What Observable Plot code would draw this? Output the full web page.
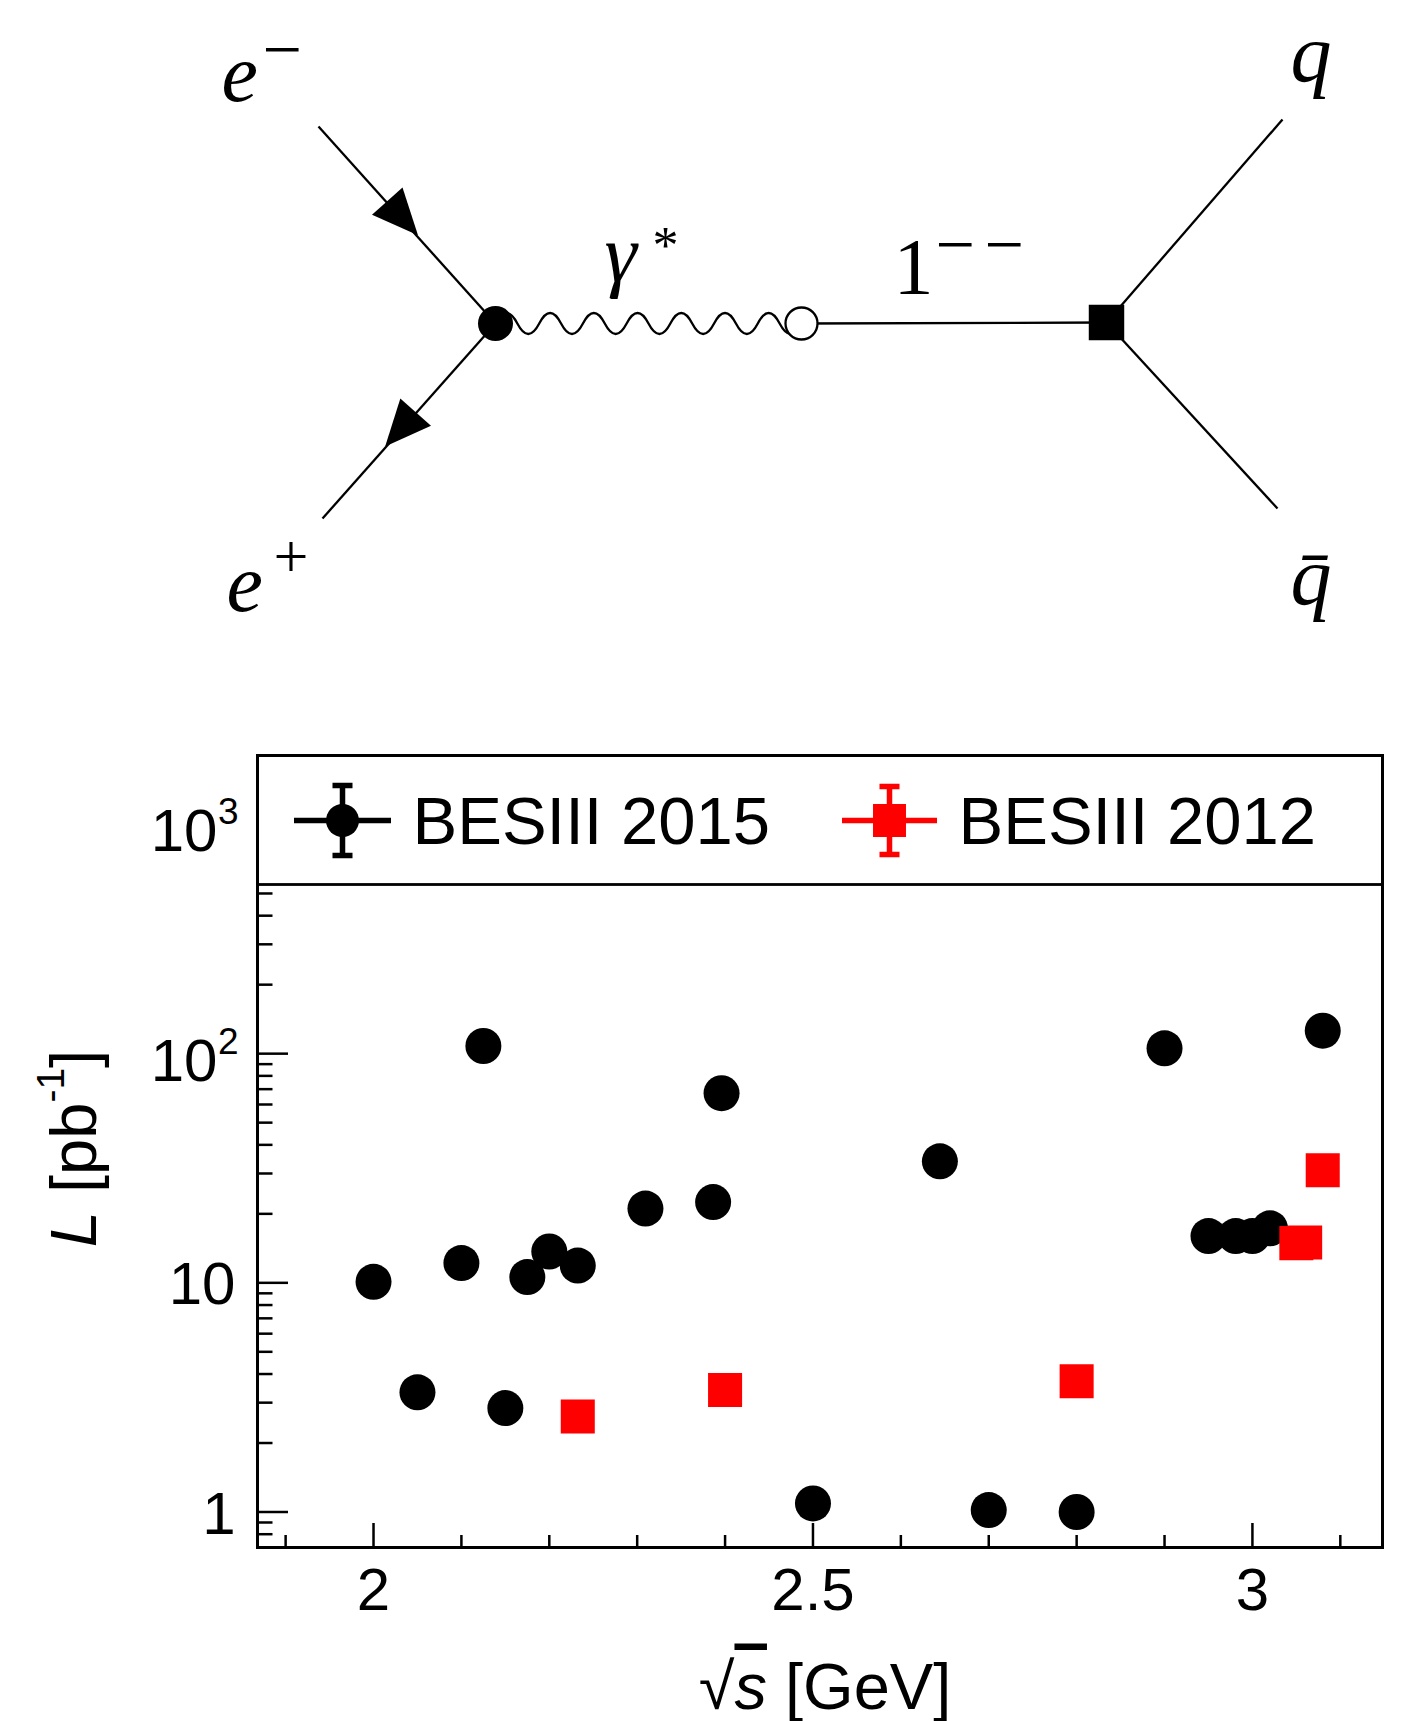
<!DOCTYPE html>
<html>
<head>
<meta charset="utf-8">
<script src="https://cdn.jsdelivr.net/npm/d3@7"></script>
<script src="https://cdn.jsdelivr.net/npm/@observablehq/plot@0.6"></script>
<style>
  html, body { margin: 0; padding: 0; background: #ffffff; }
  #diagram, #chart { display: block; line-height: 0; }
  svg { display: block; }
</style>
</head>
<body>
<div id="diagram"></div>
<div id="chart"></div>
<script>
// ================= Chart data =================
const sqrtS2015 = [2.0, 2.05, 2.1, 2.125, 2.15, 2.175, 2.2, 2.2324, 2.3094, 2.3864, 2.396, 2.5, 2.6444, 2.7, 2.8, 2.9, 2.95, 2.981, 3.0, 3.02, 3.08];
const lumi2015  = [10.1, 3.33, 12.2, 108, 2.84, 10.6, 13.7, 11.9, 21.1, 22.5, 67.2, 1.09, 33.9, 1.02, 1.0, 105.5, 16.0, 16.0, 16.0, 17.3, 126];
const sqrtS2012 = [2.2324, 2.4, 2.8, 3.05, 3.06, 3.08];
const lumi2012  = [2.61, 3.41, 3.72, 14.9, 15.0, 31.0];
const seriesNames = ["BESIII 2015", "BESIII 2012"];

const xMajorTicks = [2, 2.5, 3];
const xMinorTicks = [1.9, 2.1, 2.2, 2.3, 2.4, 2.6, 2.7, 2.8, 2.9, 3.1];
const xTickLabels = ["2", "2.5", "3"];
const yMajorTicks = [1, 10, 100, 1000];
const yMinorTicks = [0.8, 0.9, 2, 3, 4, 5, 6, 7, 8, 9, 20, 30, 40, 50, 60, 70, 80, 90, 200, 300, 400, 500, 600, 700, 800, 900, 2000];
const yPlainTickValues = [1, 10];
const yPlainTickLabels = ["1", "10"];
const yPowerTickValues = [100, 1000];
const yPowerTickBases = ["10", "10"];
const yPowerTickExponents = ["2", "3"];
const xTitle = "√s [GeV]";
const yTitle = "L [pb-1]";

// ================= Diagram data (Feynman graph) =================
const diagramNodes = [
  {id: "eIn",   x: 318,  y: 126},
  {id: "eOut",  x: 322,  y: 518},
  {id: "vtx",   x: 495,  y: 323},
  {id: "blob",  x: 801,  y: 323},
  {id: "decay", x: 1106, y: 322},
  {id: "q",     x: 1282, y: 119},
  {id: "qbar",  x: 1277, y: 508}
];
const fermionEdges = [["eIn", "vtx"], ["vtx", "eOut"], ["blob", "decay"], ["decay", "q"], ["decay", "qbar"]];
const photonEdges = [["vtx", "blob"]];
const arrowPlacements = [
  {from: "eIn", to: "vtx",  x: 397, y: 212},
  {from: "vtx", to: "eOut", x: 405, y: 423}
];
const italicLabels = [
  {text: "e", x: 221, y: 100},
  {text: "e", x: 226, y: 610},
  {text: "γ", x: 604, y: 280},
  {text: "q", x: 1290, y: 80},
  {text: "q\u0304", x: 1290, y: 603}
];
const uprightLabels = [
  {text: "−", x: 262, y: 72,  size: 70},
  {text: "+", x: 273, y: 576, size: 62},
  {text: "*", x: 652, y: 262, size: 52},
  {text: "1", x: 893, y: 293, size: 80},
  {text: "−", x: 935, y: 267, size: 70},
  {text: "−", x: 984, y: 267, size: 70}
];

// ================= Layout / style =================
const W = 1416;
const diagramH = 690;
const chartH = 1031;
const M = {top: 65, right: 34, bottom: 174, left: 257};
const frameW = W - M.left - M.right;
const frameH = chartH - M.top - M.bottom;
const legendH = 129;
const sans = "'Liberation Sans', Arial, Helvetica, sans-serif";
const serif = "'Liberation Serif', 'Times New Roman', serif";

const nodeById = new Map(diagramNodes.map(d => [d.id, d]));
const N = id => nodeById.get(id);

// photon propagator drawn as a wavy curve between consecutive points
const PHOTON_HALF_WAVE = 22;
const PHOTON_AMP = 10.5;
function photonCurve(context) {
  let px, py, started = false;
  return {
    areaStart() {}, areaEnd() {},
    lineStart() { started = false; },
    lineEnd() {},
    point(x, y) {
      x = +x; y = +y;
      if (!started) { context.moveTo(x, y); started = true; }
      else {
        const dx = x - px, dy = y - py, len = Math.hypot(dx, dy);
        const n = Math.max(1, Math.round(len / PHOTON_HALF_WAVE));
        const h = len / n, ux = dx / len, uy = dy / len, nx = uy, ny = -ux;
        for (let i = 0; i < n; i++) {
          const s = (i % 2 === 0 ? 1 : -1) * PHOTON_AMP * 4 / 3;
          const ax = px + ux * h * i, ay = py + uy * h * i;
          context.bezierCurveTo(
            ax + ux * h / 3 + nx * s, ay + uy * h / 3 + ny * s,
            ax + ux * 2 * h / 3 + nx * s, ay + uy * 2 * h / 3 + ny * s,
            ax + ux * h, ay + uy * h);
        }
      }
      px = x; py = y;
    }
  };
}

// arrow-head symbol oriented along an edge
function arrowSymbol(dx, dy, L, Wd) {
  const len = Math.hypot(dx, dy), ux = dx / len, uy = dy / len, qx = -uy, qy = ux;
  return {
    draw(ctx) {
      ctx.moveTo(ux * 2 * L / 3, uy * 2 * L / 3);
      ctx.lineTo(-ux * L / 3 + qx * Wd / 2, -uy * L / 3 + qy * Wd / 2);
      ctx.lineTo(-ux * L / 3 - qx * Wd / 2, -uy * L / 3 - qy * Wd / 2);
      ctx.closePath();
    }
  };
}

// legend swatch: horizontal line + error bar with caps
function errorCrossSymbol(halfW, halfH, capHalf) {
  return {
    draw(ctx) {
      ctx.moveTo(-halfW, 0); ctx.lineTo(halfW, 0);
      ctx.moveTo(0, -halfH); ctx.lineTo(0, halfH);
      ctx.moveTo(-capHalf, -halfH); ctx.lineTo(capHalf, -halfH);
      ctx.moveTo(-capHalf, halfH); ctx.lineTo(capHalf, halfH);
    }
  };
}

// ================= Diagram =================
const diagram = Plot.plot({
  width: W, height: diagramH,
  marginTop: 0, marginRight: 0, marginBottom: 0, marginLeft: 0,
  x: {domain: [0, W], range: [0, W], axis: null},
  y: {domain: [0, diagramH], range: [0, diagramH], axis: null},
  style: {background: "white", overflow: "visible", fontFamily: serif},
  marks: [
    Plot.link(fermionEdges, {
      x1: e => N(e[0]).x, y1: e => N(e[0]).y,
      x2: e => N(e[1]).x, y2: e => N(e[1]).y,
      stroke: "black", strokeWidth: 2.3
    }),
    ...photonEdges.map(e => Plot.line([N(e[0]), N(e[1])], {
      x: "x", y: "y", curve: photonCurve, stroke: "black", strokeWidth: 2.3
    })),
    ...arrowPlacements.map(a => Plot.dot([a], {
      x: "x", y: "y",
      symbol: arrowSymbol(N(a.to).x - N(a.from).x, N(a.to).y - N(a.from).y, 46, 41),
      r: 10, fill: "black", stroke: "none"
    })),
    Plot.dot([N("vtx")], {x: "x", y: "y", r: 17.5, fill: "black"}),
    Plot.dot([N("blob")], {x: "x", y: "y", r: 16, fill: "white", stroke: "black", strokeWidth: 2.3}),
    Plot.dot([N("decay")], {x: "x", y: "y", symbol: "square", r: 20, fill: "black"}),
    Plot.text(italicLabels, {
      x: "x", y: "y", text: "text", fontSize: 82, fontStyle: "italic",
      fontFamily: serif, textAnchor: "start", lineAnchor: "bottom", fill: "black"
    }),
    Plot.text(uprightLabels, {
      x: "x", y: "y", text: "text", fontSize: d => d.size,
      fontFamily: serif, textAnchor: "start", lineAnchor: "bottom", fill: "black"
    })
  ]
});
document.getElementById("diagram").appendChild(diagram);

// ================= Chart =================
const d2015 = sqrtS2015.map((x, i) => ({x, y: lumi2015[i], series: seriesNames[0]}));
const d2012 = sqrtS2012.map((x, i) => ({x, y: lumi2012[i], series: seriesNames[1]}));
const tickStyle = {stroke: "black", strokeWidth: 2.5};

const legendLayout = [
  {name: seriesNames[0], color: "black",   symbol: "circle", r: 16.5, dx: 85,  textDx: 155, halfW: 48.5, halfH: 35, cap: 10},
  {name: seriesNames[1], color: "#ff0000", symbol: "square", r: 18.6, dx: 632, textDx: 701, halfW: 47.5, halfH: 34, cap: 10}
];

const chart = Plot.plot({
  width: W, height: chartH,
  marginTop: M.top, marginRight: M.right, marginBottom: M.bottom, marginLeft: M.left,
  x: {domain: [1.868, 3.148], axis: null},
  y: {type: "log", domain: [0.7, 2000], axis: null},
  style: {background: "white", overflow: "visible", fontFamily: sans, color: "black"},
  marks: [
    Plot.ruleX(xMinorTicks, {x: d => d, insetTop: frameH - 12, ...tickStyle}),
    Plot.ruleX(xMajorTicks, {x: d => d, insetTop: frameH - 24, ...tickStyle}),
    Plot.ruleY(yMinorTicks, {y: d => d, insetRight: frameW - 15.5, ...tickStyle}),
    Plot.ruleY(yMajorTicks, {y: d => d, insetRight: frameW - 31, ...tickStyle}),
    Plot.dot(d2015, {x: "x", y: "y", r: 18, fill: "black"}),
    Plot.dot(d2012, {x: "x", y: "y", r: 19.2, symbol: "square", fill: "#ff0000"}),
    // legend box
    Plot.frame({fill: "white", stroke: "black", strokeWidth: 2.8, insetBottom: frameH - legendH}),
    ...legendLayout.flatMap(L => [
      Plot.dot([L.name], {frameAnchor: "top-left", dx: L.dx, dy: 65,
        symbol: errorCrossSymbol(L.halfW, L.halfH, L.cap), r: 10,
        fill: "none", stroke: L.color, strokeWidth: 5.5}),
      Plot.dot([L.name], {frameAnchor: "top-left", dx: L.dx, dy: 65,
        symbol: L.symbol, r: L.r, fill: L.color, stroke: "none"}),
      Plot.text([L.name], {frameAnchor: "top-left", dx: L.textDx, dy: 88, text: d => d,
        textAnchor: "start", lineAnchor: "bottom", fontSize: 67, fill: "black"})
    ]),
    Plot.frame({stroke: "black", strokeWidth: 3}),
    // x tick labels
    Plot.text(xMajorTicks, {x: d => d, text: (d, i) => xTickLabels[i], frameAnchor: "bottom",
      dy: 62, lineAnchor: "bottom", textAnchor: "middle", fontSize: 60, fill: "black"}),
    // y tick labels
    Plot.text(yPlainTickValues, {y: d => d, text: (d, i) => yPlainTickLabels[i], frameAnchor: "left",
      dx: -22, dy: 21.5, lineAnchor: "bottom", textAnchor: "end", fontSize: 60, fill: "black"}),
    Plot.text(yPowerTickValues, {y: d => d, text: (d, i) => yPowerTickBases[i], frameAnchor: "left",
      dx: -40, dy: 27, lineAnchor: "bottom", textAnchor: "end", fontSize: 60, fill: "black"}),
    Plot.text(yPowerTickValues, {y: d => d, text: (d, i) => yPowerTickExponents[i], frameAnchor: "left",
      dx: -19, dy: 0, lineAnchor: "bottom", textAnchor: "end", fontSize: 37, fill: "black"}),
    // axis titles
    Plot.text([xTitle], {frameAnchor: "bottom", text: d => d, dx: 5, dy: 161,
      lineAnchor: "bottom", textAnchor: "middle", fontSize: 65, fill: "black"}),
    Plot.text([yTitle], {frameAnchor: "left", text: d => d, rotate: -90, dx: -162, dy: -3,
      lineAnchor: "bottom", textAnchor: "middle", fontSize: 65, fill: "black"})
  ]
});
document.getElementById("chart").appendChild(chart);

// rich text (italic, radical bar, superscript) for the axis titles
chart.querySelectorAll("text").forEach(t => {
  if (t.textContent === xTitle) {
    t.innerHTML = '√<tspan font-style="italic" style="text-decoration: overline; text-decoration-thickness: 2.5px">s</tspan> [GeV]';
  } else if (t.textContent === yTitle) {
    t.innerHTML = '<tspan font-style="italic">L</tspan> [pb<tspan dy="-32" font-size="39">-1</tspan><tspan dy="32">]</tspan>';
  }
});
</script>
</body>
</html>
